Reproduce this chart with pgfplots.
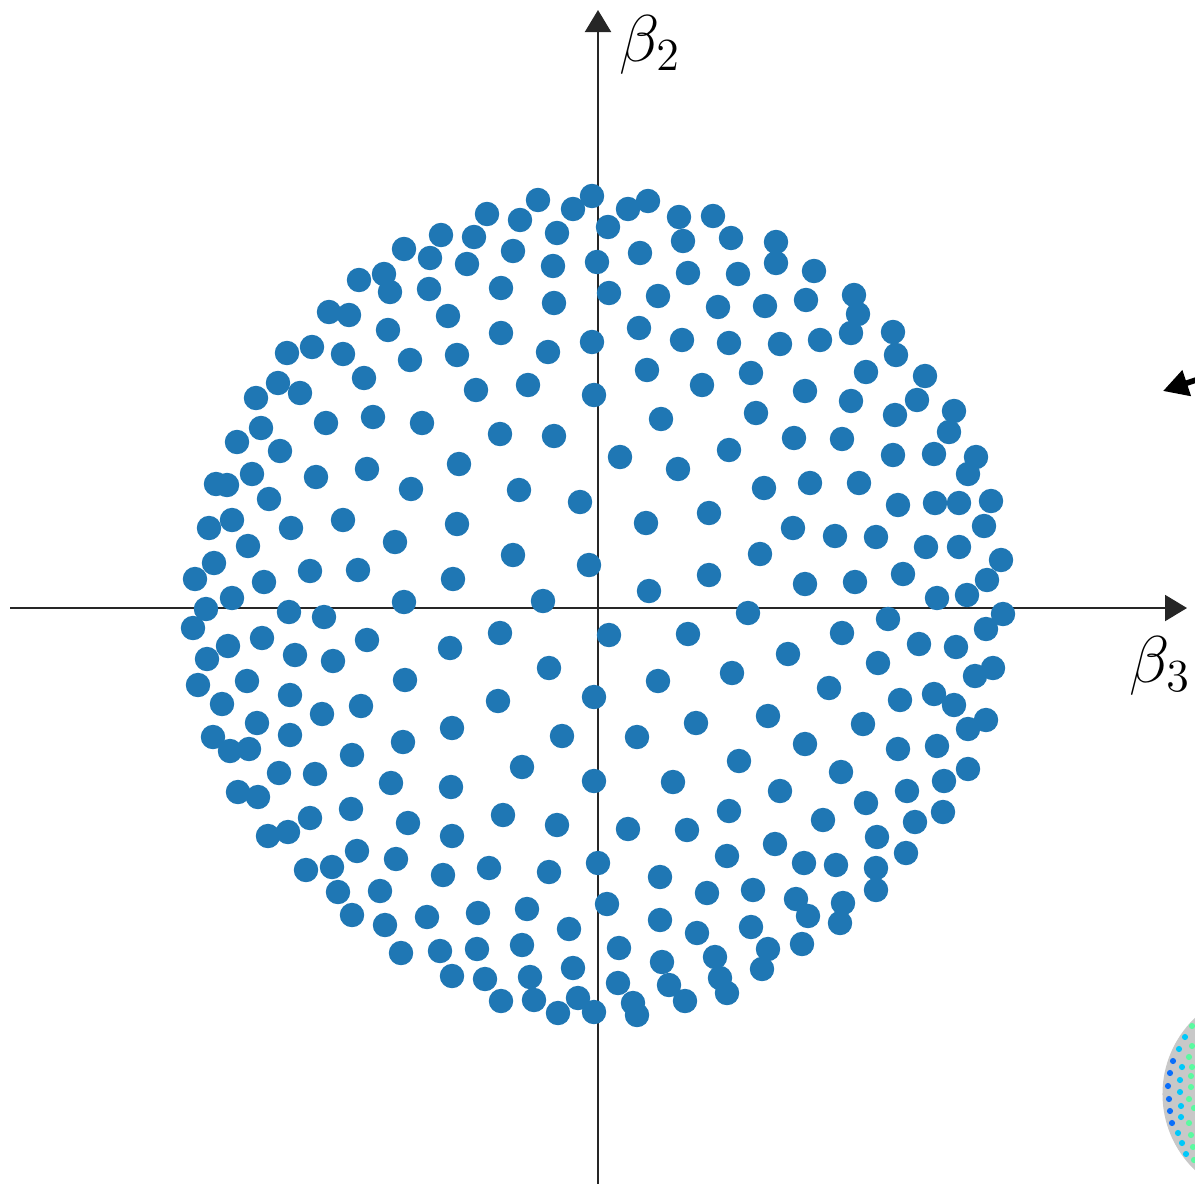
\documentclass[border=0pt]{standalone}
\usepackage{pgfplots}
\pgfplotsset{compat=1.18}
\usepackage{pgfplotstable}
\usetikzlibrary{arrows.meta}

\definecolor{tabblue}{HTML}{1F77B4}
\definecolor{axisdark}{HTML}{262626}
\definecolor{discgray}{HTML}{C8C8C8}
\definecolor{dotblue}{RGB}{10,110,250}
\definecolor{dotcyan}{RGB}{0,200,250}
\definecolor{dotgreen}{RGB}{90,250,160}

% sample points in the (beta_3, beta_2) plane, image-space coordinates
\pgfplotstableread{
x y
592 196
538 200
648 201
573 209
628 209
487 214
520 220
679 217
713 216
608 227
441 235
474 237
557 233
683 241
731 238
776 242
404 249
430 258
513 251
640 253
467 264
597 262
553 266
776 263
688 273
738 274
814 271
359 280
384 274
390 292
429 289
501 288
609 293
658 296
554 303
718 307
765 306
806 300
854 295
858 314
329 312
349 315
448 316
388 330
501 333
639 328
682 340
592 342
729 343
780 344
820 340
851 333
893 332
896 355
287 353
312 347
343 354
410 360
457 355
548 352
647 370
751 373
866 372
925 376
364 378
278 383
300 393
476 390
528 385
702 385
805 391
594 395
256 398
851 401
917 400
895 415
954 411
326 423
373 417
422 423
661 419
756 413
261 428
949 432
500 434
554 436
794 438
842 439
237 442
280 451
729 450
620 457
893 455
934 454
976 457
459 464
367 469
678 469
968 474
216 484
227 485
252 474
316 477
411 489
519 490
764 488
810 483
859 483
269 499
580 502
898 505
935 503
959 503
991 501
709 513
209 528
232 520
291 528
343 520
457 524
646 523
793 528
835 536
876 537
984 526
395 542
248 546
926 547
959 547
513 555
760 554
214 563
589 565
1001 560
195 579
264 582
310 571
358 570
453 579
709 575
805 584
855 582
903 574
987 580
649 591
232 598
206 609
404 602
543 601
937 598
967 595
748 613
888 619
1003 614
289 612
324 617
193 628
500 633
609 635
688 634
842 633
986 629
228 646
262 638
367 640
450 648
919 644
956 647
788 654
207 659
295 655
333 661
549 668
878 663
993 668
975 676
198 685
247 681
405 680
658 681
732 673
829 688
290 695
361 706
498 701
594 697
934 694
222 704
322 714
768 716
696 723
863 724
900 700
954 705
257 723
986 720
968 729
213 737
290 735
452 728
562 736
637 737
230 751
249 749
403 742
805 744
937 746
898 749
352 755
739 761
968 769
279 773
315 774
522 767
594 781
673 782
841 772
391 783
451 787
238 792
258 797
780 791
944 781
907 791
866 803
729 811
351 809
310 818
408 823
503 815
557 825
628 829
687 830
823 820
943 812
915 822
268 836
288 832
452 836
877 837
775 844
598 863
357 851
396 859
489 868
549 872
660 877
727 856
804 863
836 865
876 868
906 853
306 870
332 867
443 875
338 892
380 891
707 893
753 890
796 899
876 890
607 904
352 915
427 917
478 913
527 909
660 920
808 916
843 903
840 923
385 925
569 929
697 933
751 927
401 953
440 951
477 949
522 945
619 948
768 949
802 944
715 957
573 968
662 962
762 969
452 976
485 979
530 977
618 983
669 985
720 978
727 993
501 1001
534 1000
578 998
633 1003
685 1001
558 1013
594 1012
637 1015
}\betapts

% small inset dots (neighbouring panel), by colour group
\pgfplotstableread{
x y
1173 1061
1170 1073
1168 1086
1169 1099
1170 1111
1172 1123
}\insetblue
\pgfplotstableread{
x y
1179 1049
1182 1067
1180 1080
1180 1092
1181 1106
1181 1117
1178 1133
1182 1143
1186 1154
1185 1037
}\insetcyan
\pgfplotstableread{
x y
1192 1026
1192 1046
1189 1057
1192 1067
1191 1076
1191 1087
1189 1099
1194 1108
1189 1123
1191 1135
1193 1147
1194 1160
}\insetgreen

\begin{document}
\begin{tikzpicture}
\useasboundingbox (0,0) rectangle (11.95cm,11.83cm);
\clip (0,0) rectangle (11.95cm,11.83cm);
\begin{axis}[
  width=11.95cm, height=11.83cm, scale only axis,
  xmin=0, xmax=1195, ymin=0, ymax=1183, y dir=reverse,
  axis lines=none, clip=false,
]
% neighbouring panel fragment
\addplot[only marks, mark=*, color=discgray, mark size=1.05cm, mark options={line width=0.3pt}]
  coordinates {(1268,1094)};
\addplot[only marks, mark=*, color=dotblue, mark size=0.025cm, mark options={line width=0.3pt}] table {\insetblue};
\addplot[only marks, mark=*, color=dotcyan, mark size=0.025cm, mark options={line width=0.3pt}] table {\insetcyan};
\addplot[only marks, mark=*, color=dotgreen, mark size=0.025cm, mark options={line width=0.3pt}] table {\insetgreen};
\addplot[black, line width=1.6pt, -{Triangle[length=2.5mm,width=2.6mm]}]
  coordinates {(1205,377) (1163,391)};

% the point cloud
\addplot[only marks, mark=*, color=tabblue, mark size=0.115cm, mark options={line width=0.4pt}]
  table {\betapts};

% coordinate axes, drawn over the points
\addplot[axisdark, line width=0.6pt, -{Triangle[length=2.2mm,width=2.6mm]}]
  coordinates {(10,608) (1187,608)};
\addplot[axisdark, line width=0.6pt, -{Triangle[length=2.2mm,width=2.6mm]}]
  coordinates {(598,1190) (598,10)};

\node[anchor=base west, inner sep=0pt, scale=1.09, font=\fontsize{17.28}{20}\selectfont]
  at (axis cs:619,61) {$\beta_2$};
\node[anchor=base west, inner sep=0pt, scale=1.09, font=\fontsize{17.28}{20}\selectfont]
  at (axis cs:1129,682) {$\beta_3$};
\end{axis}
\end{tikzpicture}
\end{document}
